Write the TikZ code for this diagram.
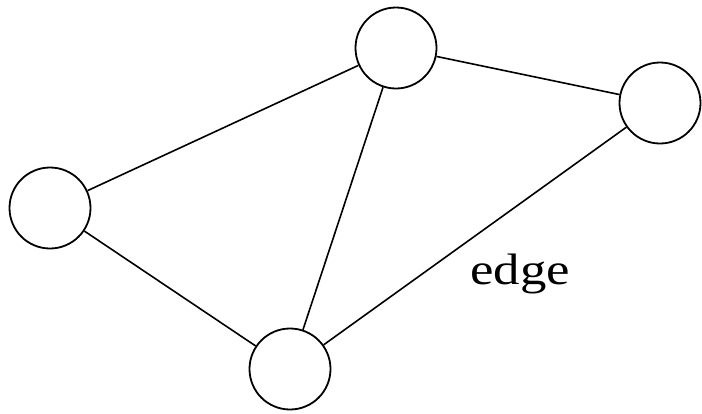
\documentclass[tikz,border=0pt]{standalone}
\usepackage{fontspec}
\setmainfont{Liberation Serif}
\usepackage{tikz}
\usetikzlibrary{positioning}

\begin{document}
\begin{tikzpicture}[x=1pt, y=-1pt]

\tikzset{
  vertex/.style={circle, draw=black, line width=1.8pt, fill=white,
    minimum size=81pt, inner sep=0pt},
  link/.style={line width=1.6pt, black},
  edgelabel/.style={font=\fontsize{44}{48}\selectfont, inner sep=0pt,
    xscale=1.2, transform shape}
}

\useasboundingbox (0,0) rectangle (702,413);

\node[vertex] (vtop)    at (396,48)  {};
\node[vertex] (vright)  at (660,103) {};
\node[vertex] (vleft)   at (50,208)  {};
\node[vertex] (vbottom) at (290,369) {};

\draw[link] (vleft)  -- (vtop);
\draw[link] (vtop)   -- (vright);
\draw[link] (vleft)  -- (vbottom);
\draw[link] (vtop)   -- (vbottom);
\draw[link] (vright) -- (vbottom);

\node[edgelabel] (edgetext) at (520,274) {edge};

\end{tikzpicture}
\end{document}
